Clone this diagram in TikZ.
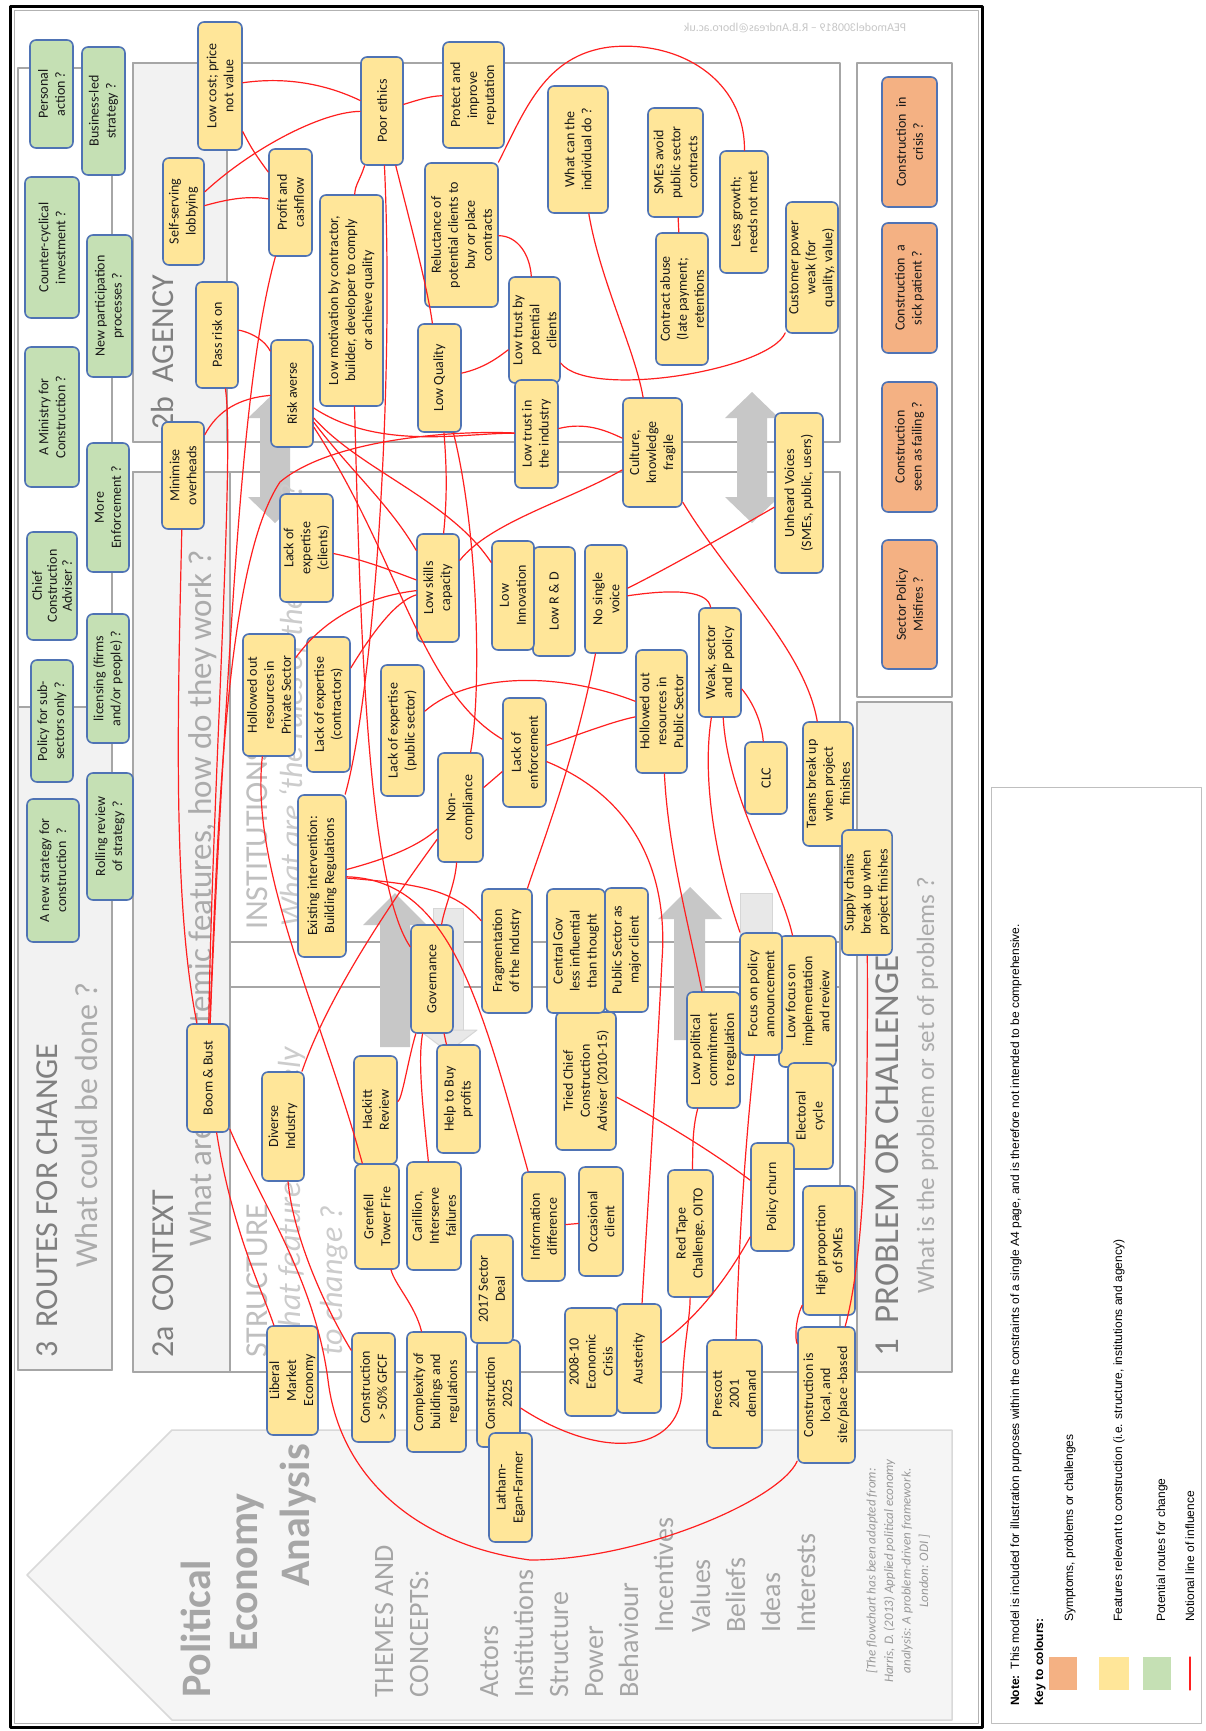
\documentclass[tikz,border=0pt]{standalone}
\usepackage{fontspec}
\setmainfont{Carlito}
\newfontfamily\keyfont{Liberation Sans}
\usetikzlibrary{calc}
\definecolor{peaYellow}{HTML}{FFE699}
\definecolor{peaGreen}{HTML}{C5E0B4}
\definecolor{peaOrange}{HTML}{F4B183}
\definecolor{peaEdge}{HTML}{4F73B4}
\definecolor{peaRed}{HTML}{FF1F1F}
\definecolor{peaPanel}{HTML}{A6A6A6}
\definecolor{peaStrip}{HTML}{F2F2F2}
\tikzset{
  every picture/.append style={line cap=round,line join=round},
  pea box/.style={draw=peaEdge,line width=1.6pt,rounded corners=6pt,rotate=90,align=center,
    inner sep=2pt,font=\fontsize{14}{17}\selectfont,text=black!90},
  pea feature/.style={pea box,fill=peaYellow},
  pea route/.style={pea box,fill=peaGreen},
  pea symptom/.style={pea box,fill=peaOrange},
  pea link/.style={draw=peaRed,line width=1.2pt},
  pea panel/.style={draw=peaPanel,line width=2.5pt},
  pea title/.style={rotate=90,anchor=base west,inner sep=0pt,font=\fontsize{32}{38}\selectfont,text=black!50},
  pea question/.style={pea title,text=black!33},
  pea subtitle/.style={pea title,text=black!25},
  pea aside/.style={pea title,font=\fontsize{32}{38}\selectfont\itshape,text=black!20},
  pea theme/.style={rotate=90,anchor=base west,inner sep=0pt,font=\fontsize{28}{34}\selectfont,text=black!35},
  pea key/.style={rotate=90,anchor=base west,inner sep=0pt,font=\keyfont\fontsize{12}{14}\selectfont},
  pea bigarrow/.style={fill=black!22},
  pea ghostarrow/.style={fill=black!9,draw=black!16,line width=1pt}
}

\begin{document}
\begin{tikzpicture}[x=1pt,y=-1pt]
  \useasboundingbox (0,0) rectangle (1206,1731);
  \fill[white] (0,0) rectangle (1206,1731);
  % frame
  \draw[line width=3pt] (10,7) rectangle (982,1727);
  \draw[black!30,line width=1pt] (14,11) rectangle (978,1723);
  \node[xscale=-1,font=\fontsize{12}{14}\selectfont,text=black!22] (stamp) at (795,28) {PEAmodel300819 -- R.B.Andreas@lboro.ac.uk};

  % panels
  \filldraw[pea panel,fill=white] (18,68) rectangle (112,1370);
  \filldraw[pea panel,fill=peaStrip] (18,707) rectangle (112,1370);
  \filldraw[pea panel,fill=white] (133,63) rectangle (840,442);
  \filldraw[pea panel,fill=peaStrip] (133,63) rectangle (227,442);
  \filldraw[pea panel,fill=white] (133,472) rectangle (840,1372);
  \filldraw[pea panel,fill=peaStrip] (133,472) rectangle (230,1372);
  \draw[pea panel] (230,472) rectangle (840,942);
  \draw[pea panel] (230,987) rectangle (840,1372);
  \filldraw[pea panel,fill=white] (857,63) rectangle (952,697);
  \filldraw[pea panel,fill=peaStrip] (857,702) rectangle (952,1372);
  \filldraw[fill=black!4,draw=black!15,line width=1.5pt] (27,1575) -- (172,1430) -- (952,1430) -- (952,1720) -- (172,1720) -- cycle;

  % big grey arrows
  \foreach \cx in {275,752} {
    \fill[pea bigarrow] (\cx,392) -- ++(27,26) -- ++(-12,0) -- ++(0,79) -- ++(12,0) -- ++(-27,26)
      -- ++(-27,-26) -- ++(12,0) -- ++(0,-79) -- ++(-12,0) -- cycle;
  }
  \filldraw[pea ghostarrow] (433,908) rectangle (463,1030);
  \filldraw[pea ghostarrow] (419,1030) -- (477,1030) -- (448,1052) -- cycle;
  \filldraw[pea ghostarrow] (740,893) rectangle (772,1030);
  \filldraw[pea ghostarrow] (727,1030) -- (785,1030) -- (756,1052) -- cycle;
  \fill[pea bigarrow] (395,893) -- (427,925) -- (410,925) -- (410,1047) -- (380,1047) -- (380,925) -- (363,925) -- cycle;
  \fill[pea bigarrow] (690,887) -- (722,919) -- (705,919) -- (705,1040) -- (674,1040) -- (674,919) -- (658,919) -- cycle;

  % headings
  \node[pea title] (routestitle) at (57,1358) {3\hspace{0.45em}ROUTES FOR CHANGE};
  \node[pea question] (routesask) at (97,1268) {What could be done ?};
  \node[pea title] (contexttitle) at (173,1358) {2a\hspace{0.45em}CONTEXT};
  \node[pea question,font=\fontsize{33}{38}\selectfont] (contextask) at (211,1247) {What are the systemic features, how do they work ?};
  \node[pea title] (agencytitle) at (173,430) {2b\hspace{0.45em}AGENCY};
  \node[pea subtitle] (structtitle) at (267,1358) {STRUCTURE};
  \node[pea aside] (structask) at (300,1356) {What features are likely};
  \node[pea aside] (structask2) at (342,1356) {to change ?};
  \node[pea subtitle] (insttitle) at (267,930) {INSTITUTIONS};
  \node[pea aside] (instask) at (302,927) {What are ‘the rules of the game’ ?};
  \node[pea title,font=\fontsize{35}{40}\selectfont] (problemtitle) at (898,1357) {1\hspace{0.45em}PROBLEM OR CHALLENGE};
  \node[pea question,font=\fontsize{25}{30}\selectfont] (problemask) at (934,1294) {What is the problem or set of problems ?};

  % political economy analysis
  \node[pea theme,font=\fontsize{42}{48}\selectfont\bfseries] (pea1) at (210,1698) {Political};
  \node[pea theme,font=\fontsize{42}{48}\selectfont\bfseries] (pea2) at (257,1652) {Economy};
  \node[pea theme,font=\fontsize{42}{48}\selectfont\bfseries] (pea3) at (309,1587) {Analysis};
  \foreach \t/\x in {THEMES AND/393,CONCEPTS:/428,Actors/498,Institutions/533,Structure/568,Power/603,Behaviour/638}
    \node[pea theme] at (\x,1698) {\t};
  \foreach \t/\x in {Incentives/673,Values/710,Beliefs/745,Ideas/780,Interests/815}
    \node[pea theme] at (\x,1633) {\t};
  \node[rotate=90,align=center,font=\fontsize{13}{17.5}\selectfont\itshape,text=black!40] (source) at (898,1571)
    {[The flowchart has been adapted from:\\Harris, D. (2013) Applied political economy\\analysis: A problem-driven framework.\\London: ODI ]};

  % routes for change
  \node[pea route,minimum width=108,minimum height=43] (personal) at (51.5,94) {Personal\\action ?};
  \node[pea route,minimum width=128,minimum height=43] (business) at (103.5,111) {Business-led\\strategy ?};
  \node[pea route,minimum width=141,minimum height=54] (counter) at (52,247.5) {Counter-cyclical\\investment ?};
  \node[pea route,minimum width=142,minimum height=45] (participation) at (109.5,306) {New participation\\processes ?};
  \node[pea route,minimum width=140,minimum height=54] (ministry) at (52,417) {A Ministry for\\Construction ?};
  \node[pea route,minimum width=129,minimum height=42] (enforce) at (108,507.5) {More\\Enforcement ?};
  \node[pea route,minimum width=108,minimum height=50,font=\fontsize{14}{15}\selectfont] (adviser) at (52,586) {Chief\\Construction\\Adviser ?};
  \node[pea route,minimum width=122,minimum height=42] (subsectors) at (52,721) {Policy for sub-\\sectors only ?};
  \node[pea route,minimum width=129,minimum height=42] (licensing) at (108,678.5) {licensing (firms\\and/or people) ?};
  \node[pea route,minimum width=143,minimum height=52] (newstrategy) at (53,870.5) {A new strategy for\\construction\ \ ?};
  \node[pea route,minimum width=127,minimum height=46] (rolling) at (110,836.5) {Rolling review\\of strategy ?};

  % agency
  \node[pea feature,minimum width=128,minimum height=44] (lowcost) at (220,86) {Low cost; price\\not value};
  \node[pea feature,minimum width=107,minimum height=41] (lobbying) at (183.5,211.5) {Self-serving\\lobbying};
  \node[pea feature,minimum width=107,minimum height=43] (profit) at (290.5,202.5) {Profit and\\cashflow};
  \node[pea feature,minimum width=106,minimum height=42] (passrisk) at (217,335) {Pass risk on};
  \node[pea feature,minimum width=107,minimum height=42] (riskaverse) at (292,393.5) {Risk averse};
  \node[pea feature,minimum width=211,minimum height=63] (motivation) at (351.5,300.5) {Low motivation by contractor,\\builder, developer to comply\\or achieve quality};
  \node[pea feature,minimum width=107,minimum height=42] (overheads) at (183,475.5) {Minimise\\overheads};
  \node[pea feature,minimum width=108,minimum height=42] (ethics) at (382,111) {Poor ethics};
  \node[pea feature,minimum width=106,minimum height=61] (reputation) at (473.5,95) {Protect and\\improve\\reputation};
  \node[pea feature,minimum width=127,minimum height=60] (individual) at (578,149.5) {What can the\\individual do ?};
  \node[pea feature,minimum width=109,minimum height=55] (smesavoid) at (675.5,162.5) {SMEs avoid\\public sector\\contracts};
  \node[pea feature,minimum width=144,minimum height=73] (reluctance) at (461.5,235) {Reluctance of\\potential clients to\\buy or place\\contracts};
  \node[pea feature,minimum width=106,minimum height=51] (trustclients) at (534.5,330) {Low trust by\\potential\\clients};
  \node[pea feature,minimum width=108,minimum height=43] (quality) at (439.5,378) {Low Quality};
  \node[pea feature,minimum width=132,minimum height=52] (abuse) at (682,299) {Contract abuse\\(late payment;\\retentions};
  \node[pea feature,minimum width=108,minimum height=43] (trustindustry) at (536.5,434) {Low trust in\\the industry};
  \node[pea feature,minimum width=109,minimum height=59] (culture) at (652.5,452.5) {Culture,\\knowledge\\fragile};
  \node[pea feature,minimum width=122,minimum height=48] (growth) at (744,212) {Less growth;\\needs not met};
  \node[pea feature,minimum width=131,minimum height=52] (customer) at (812,267.5) {Customer power\\weak (for\\quality, value)};

  % institutions
  \node[pea feature,minimum width=108,minimum height=53] (expclients) at (306.5,548) {Lack of\\expertise\\(clients)};
  \node[pea feature,minimum width=122,minimum height=52] (hollowprivate) at (269,695) {Hollowed out\\resources in\\Private Sector};
  \node[pea feature,minimum width=135,minimum height=43] (expcontractors) at (328.5,704.5) {Lack of expertise\\(contractors)};
  \node[pea feature,minimum width=162,minimum height=48] (buildregs) at (322,876) {Existing intervention:\\Building Regulations};
  \node[pea feature,minimum width=108,minimum height=42] (skills) at (438,588) {Low skills\\capacity};
  \node[pea feature,minimum width=109,minimum height=42] (research) at (554,601.5) {Low R \& D};
  \node[pea feature,minimum width=109,minimum height=42] (innovation) at (513,595.5) {Low\\Innovation};
  \node[pea feature,minimum width=108,minimum height=42] (voice) at (606,599) {No single\\voice};
  \node[pea feature,minimum width=131,minimum height=43] (exppublic) at (402.5,730.5) {Lack of expertise\\(public sector)};
  \node[pea feature,minimum width=109,minimum height=43] (enforcement) at (524.5,752.5) {Lack of\\enforcement};
  \node[pea feature,minimum width=109,minimum height=45] (noncompliance) at (460.5,807.5) {Non-\\compliance};
  \node[pea feature,minimum width=123,minimum height=51] (hollowpublic) at (661.5,711.5) {Hollowed out\\resources in\\Public Sector};
  \node[pea feature,minimum width=160,minimum height=48] (unheard) at (799,493) {Unheard Voices\\(SMEs, public, users)};
  \node[pea feature,minimum width=109,minimum height=42] (weakpolicy) at (720,662.5) {Weak, sector\\and IP policy};
  \node[pea feature,minimum width=72,minimum height=42] (clc) at (766,778) {CLC};
  \node[pea feature,minimum width=124,minimum height=50] (teams) at (828,784) {Teams break up\\when project\\finishes};
  \node[pea feature,minimum width=125,minimum height=50] (supply) at (867,892.5) {Supply chains\\break up when\\project finishes};

  % structure
  \node[pea feature,minimum width=108,minimum height=42] (boombust) at (208,1078) {Boom \& Bust};
  \node[pea feature,minimum width=109,minimum height=42] (diverse) at (283,1126.5) {Diverse\\Industry};
  \node[pea feature,minimum width=124,minimum height=50] (fragment) at (507,951) {Fragmentation\\of the Industry};
  \node[pea feature,minimum width=124,minimum height=43] (publicclient) at (626.5,950) {Public Sector as\\major client};
  \node[pea feature,minimum width=138,minimum height=60] (tried) at (586,1081) {Tried Chief\\Construction\\Adviser (2010-15)};
  \node[pea feature,minimum width=124,minimum height=58] (centralgov) at (576,951) {Central Gov\\less influential\\than thought};
  \node[pea feature,minimum width=108,minimum height=42] (governance) at (432,979) {Governance};
  \node[pea feature,minimum width=108,minimum height=43] (helptobuy) at (458.5,1099) {Help to Buy\\profits};
  \node[pea feature,minimum width=108,minimum height=43] (hackitt) at (375.5,1110) {Hackitt\\Review};
  \node[pea feature,minimum width=105,minimum height=44] (grenfell) at (377,1216.5) {Grenfell\\Tower Fire};
  \node[pea feature,minimum width=108,minimum height=54] (carillion) at (434,1216) {Carillion,\\Interserve\\failures};
  \node[pea feature,minimum width=109,minimum height=43] (infodiff) at (543.5,1226.5) {Information\\difference};
  \node[pea feature,minimum width=109,minimum height=44] (occasional) at (601,1221.5) {Occasional\\client};
  \node[pea feature,minimum width=107,minimum height=43] (c2025) at (498.5,1393.5) {Construction\\2025};
  \node[pea feature,minimum width=108,minimum height=42] (sectordeal) at (492,1289) {2017 Sector\\Deal};
  \node[pea feature,minimum width=109,minimum height=43] (latham) at (510.5,1487.5) {Latham-\\Egan-Farmer};
  \node[pea feature,minimum width=131,minimum height=57] (lowfocus) at (807.5,1001.5) {Low focus on\\implementation\\and review};
  \node[pea feature,minimum width=122,minimum height=42] (focus) at (761,994) {Focus on policy\\announcement};
  \node[pea feature,minimum width=116,minimum height=53] (commitment) at (713.5,1050) {Low political\\commitment\\to regulation};
  \node[pea feature,minimum width=106,minimum height=45] (electoral) at (810.5,1116) {Electoral\\cycle};
  \node[pea feature,minimum width=127,minimum height=45] (redtape) at (690.5,1233.5) {Red Tape\\Challenge, OITO};
  \node[pea feature,minimum width=108,minimum height=43] (churn) at (772.5,1197) {Policy churn};
  \node[pea feature,minimum width=129,minimum height=52] (smeshare) at (829,1250.5) {High proportion\\of SMEs};
  \node[pea feature,minimum width=109,minimum height=43] (gfcf) at (373.5,1387.5) {Construction\\> 50\% GFCF};
  \node[pea feature,minimum width=120,minimum height=59] (complexity) at (436.5,1392) {Complexity of\\buildings and\\regulations};
  \node[pea feature,minimum width=108,minimum height=52] (crisis0810) at (591,1362) {2008-10\\Economic\\Crisis};
  \node[pea feature,minimum width=109,minimum height=44] (austerity) at (639,1358.5) {Austerity};
  \node[pea feature,minimum width=109,minimum height=51] (liberal) at (292.5,1380.5) {Liberal\\Market\\Economy};
  \node[pea feature,minimum width=108,minimum height=55] (prescott) at (734.5,1394) {Prescott\\2001\\demand};
  \node[pea feature,minimum width=136,minimum height=57] (local) at (826.5,1395) {Construction is\\local, and\\site/place -based};

  % problem or challenge
  \node[pea symptom,minimum width=130,minimum height=55] (incrisis) at (909.5,142) {Construction\ \ in\\crisis ?};
  \node[pea symptom,minimum width=130,minimum height=55] (patient) at (909.5,288) {Construction\ \ a\\sick patient ?};
  \node[pea symptom,minimum width=130,minimum height=55] (failing) at (909.5,447) {Construction\\seen as failing ?};
  \node[pea symptom,minimum width=129,minimum height=55] (misfires) at (909.5,604.5) {Sector Policy\\Misfires ?};

  % lines of influence
  \draw[pea link] (lowcost) .. controls (290,76) and (330,86) .. (ethics);
  \draw[pea link] (lowcost) .. controls (252,150) and (258,158) .. (profit);
  \draw[pea link] (lobbying) .. controls (250,150) and (320,112) .. (ethics);
  \draw[pea link] (lobbying) .. controls (232,198) and (250,196) .. (profit);
  \draw[pea link] (profit) .. controls (255,330) and (243,450) .. (233,600) .. controls (223,750) and (215,900) .. (boombust);
  \draw[pea link] (passrisk) .. controls (240,330) and (262,335) .. (riskaverse);
  \draw[pea link] (riskaverse) .. controls (240,398) and (218,410) .. (overheads);
  \draw[pea link] (passrisk) .. controls (235,450) and (212,800) .. (boombust);
  \draw[pea link] (boombust) .. controls (218,800) and (228,560) .. (280,482) .. controls (330,440) and (450,430) .. (trustindustry);
  \draw[pea link] (overheads) .. controls (178,700) and (172,900) .. (boombust);
  \draw[pea link] (riskaverse) .. controls (360,470) and (450,500) .. (innovation);
  \draw[pea link] (riskaverse) .. controls (350,470) and (390,505) .. (skills);
  \draw[pea link] (riskaverse) .. controls (380,452) and (470,432) .. (trustindustry);
  \draw[pea link] (riskaverse) .. controls (400,560) and (420,690) .. (enforcement);
  \draw[pea link] (ethics) .. controls (418,100) and (430,96) .. (reputation);
  \draw[pea link] (ethics) .. controls (360,180) and (355,185) .. (motivation);
  \draw[pea link] (ethics) .. controls (412,230) and (428,290) .. (quality);
  \draw[pea link] (ethics) .. controls (395,400) and (372,700) .. (buildregs);
  \draw[pea link] (motivation) .. controls (360,600) and (365,880) .. (governance);
  \draw[pea link] (reluctance) .. controls (518,236) and (530,255) .. (trustclients);
  \draw[pea link] (reluctance) .. controls (525,110) and (545,55) .. (610,47) .. controls (680,40) and (745,80) .. (growth);
  \draw[pea link] (quality) .. controls (485,368) and (500,356) .. (trustclients);
  \draw[pea link] (individual) .. controls (600,280) and (635,350) .. (culture);
  \draw[pea link] (trustclients) .. controls (590,400) and (770,370) .. (customer);
  \draw[pea link] (smesavoid) -- (abuse);
  \draw[pea link] (trustindustry) .. controls (585,422) and (605,430) .. (culture);
  \draw[pea link] (culture) .. controls (570,500) and (490,522) .. (skills);
  \draw[pea link] (quality) .. controls (447,470) and (447,500) .. (skills);
  \draw[pea link] (quality) .. controls (478,530) and (482,690) .. (noncompliance);
  \draw[pea link] (culture) .. controls (730,580) and (805,650) .. (teams);
  \draw[pea link] (unheard) .. controls (700,550) and (660,572) .. (voice);
  \draw[pea link] (voice) .. controls (680,588) and (708,592) .. (weakpolicy);
  \draw[pea link] (weakpolicy) .. controls (755,705) and (762,725) .. (clc);
  \draw[pea link] (weakpolicy) .. controls (700,790) and (722,880) .. (focus);
  \draw[pea link] (weakpolicy) .. controls (728,800) and (780,880) .. (lowfocus);
  \draw[pea link] (hollowpublic) .. controls (668,850) and (690,930) .. (commitment);
  \draw[pea link] (enforcement) .. controls (640,800) and (668,880) .. (662,960) .. controls (655,1100) and (645,1250) .. (austerity);
  \draw[pea link] (hollowpublic) .. controls (610,722) and (570,738) .. (enforcement);
  \draw[pea link] (hollowpublic) .. controls (560,672) and (470,672) .. (exppublic);
  \draw[pea link] (voice) .. controls (575,760) and (540,850) .. (fragment);
  \draw[pea link] (buildregs) .. controls (390,858) and (420,845) .. (noncompliance);
  \draw[pea link] (noncompliance) -- (enforcement);
  \draw[pea link] (buildregs) .. controls (420,884) and (455,890) .. (fragment);
  \draw[pea link] (noncompliance) .. controls (455,885) and (445,905) .. (governance);
  \draw[pea link] (tried) .. controls (660,1120) and (710,1150) .. (churn);
  \draw[pea link] (commitment) .. controls (692,1130) and (693,1150) .. (redtape);
  \draw[pea link] (prescott) .. controls (740,1200) and (750,1100) .. (focus);
  \draw[pea link] (churn) .. controls (715,1300) and (680,1330) .. (austerity);
  \draw[pea link] (c2025) .. controls (600,1460) and (680,1455) .. (682,1390) .. controls (684,1340) and (690,1320) .. (redtape);
  \draw[pea link] (supply) .. controls (868,1100) and (866,1250) .. (local);
  \draw[pea link] (smeshare) .. controls (795,1320) and (795,1340) .. (local);
  \draw[pea link] (infodiff) -- (occasional);
  \draw[pea link] (infodiff) .. controls (480,1000) and (450,880) .. (buildregs);
  \draw[pea link] (diverse) .. controls (330,990) and (400,890) .. (noncompliance);
  \draw[pea link] (hollowprivate) .. controls (250,870) and (320,1010) .. (grenfell);
  \draw[pea link] (hackitt) .. controls (402,1100) and (408,1060) .. (governance);
  \draw[pea link] (carillion) .. controls (422,1100) and (418,1060) .. (governance);
  \draw[pea link] (helptobuy) -- (governance);
  \draw[pea link] (grenfell) .. controls (395,1285) and (415,1305) .. (complexity);
  \draw[pea link] (boombust) .. controls (232,1230) and (262,1290) .. (liberal);
  \draw[pea link] (boombust) .. controls (260,1200) and (315,1280) .. (328,1380) .. controls (340,1480) and (420,1545) .. (530,1560) .. controls (640,1560) and (780,1500) .. (local);
  \draw[pea link] (diverse) .. controls (292,1225) and (315,1290) .. (gfcf);
  \draw[pea link] (expclients) .. controls (365,560) and (395,572) .. (skills);
  \draw[pea link] (hollowprivate) .. controls (330,610) and (380,595) .. (skills);
  \draw[pea link] (expcontractors) .. controls (380,620) and (400,600) .. (skills);

  % key
  \draw[black!25,line width=1pt] (991,787) rectangle (1201,1723);
  \node[pea key] (note) at (1019,1706) {\textbf{Note:}\enspace This model is included for illustration purposes within the constraints of a single A4 page, and is therefore not intended to be comprehensive.};
  \node[pea key] (keyhead) at (1043,1706) {\textbf{Key to colours:}};
  \fill[peaOrange] (1049,1657) rectangle (1077,1690);
  \node[pea key] (keysymptom) at (1073,1622) {Symptoms, problems or challenges};
  \fill[peaYellow] (1099,1657) rectangle (1129,1690);
  \node[pea key] (keyfeature) at (1122,1622) {Features relevant to construction (i.e. structure, institutions and agency)};
  \fill[peaGreen] (1143,1657) rectangle (1171,1690);
  \node[pea key] (keyroute) at (1165,1622) {Potential routes for change};
  \coordinate (keylinea) at (1190,1657);
  \coordinate (keylineb) at (1190,1690);
  \draw[pea link] (keylinea) -- (keylineb);
  \node[pea key] (keylink) at (1194,1622) {Notional line of influence};
\end{tikzpicture}
\end{document}
